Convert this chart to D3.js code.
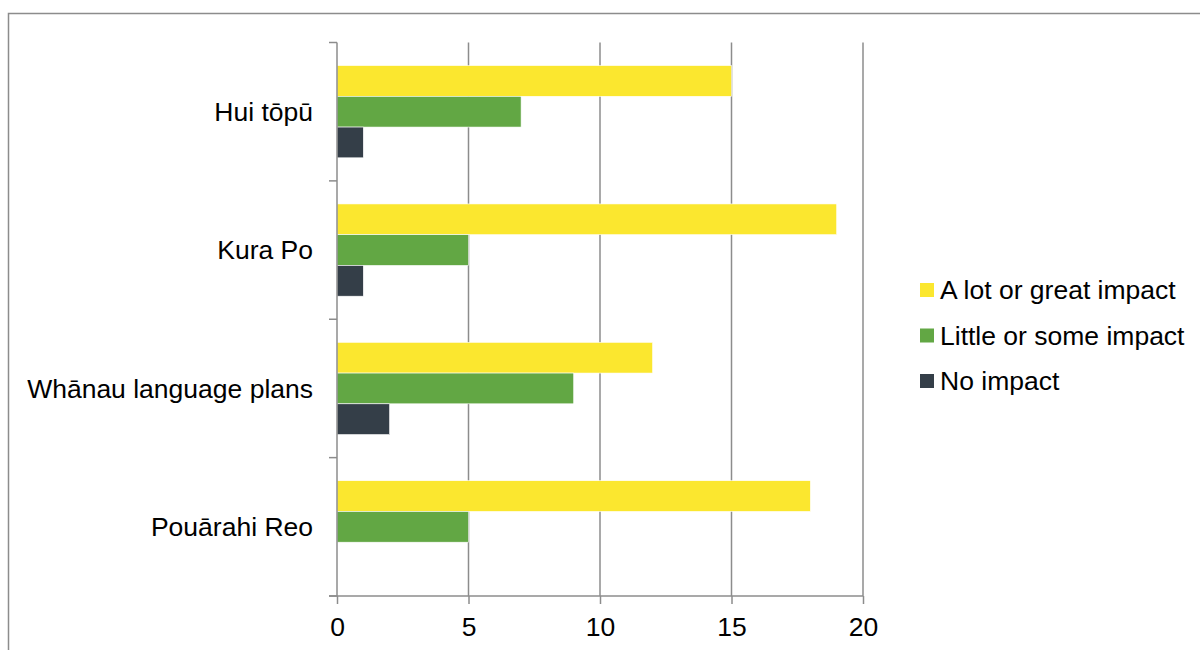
<!DOCTYPE html>
<html>
<head>
<meta charset="utf-8">
<script src="https://cdn.jsdelivr.net/npm/d3@7"></script>
<style>
  html, body { margin: 0; padding: 0; background: #fff; }
  svg { display: block; font-family: "Liberation Sans", Arial, sans-serif; }
</style>
</head>
<body>
<svg id="chart" width="1200" height="650"></svg>
<script>
// Programmes rated for impact (top to bottom)
const categories = ["Hui tōpū", "Kura Po", "Whānau language plans", "Pouārahi Reo"];
const seriesNames = ["A lot or great impact", "Little or some impact", "No impact"];
const greatImpact = [15, 19, 12, 18];
const someImpact = [7, 5, 9, 5];
const noImpact = [1, 1, 2, 0];
const xTicks = [0, 5, 10, 15, 20];
const colors = ["#FBE72F", "#62A744", "#343E48"];

const seriesValues = [greatImpact, someImpact, noImpact];
const fontSize = 26.5;

const svg = d3.select("#chart");
const margin = { left: 337, right: 337 + 526, top: 42.5, bottom: 596 };

// outer chart frame
svg.append("rect")
  .attr("x", 8.5).attr("y", 13.5)
  .attr("width", 1300).attr("height", 800)
  .attr("fill", "none").attr("stroke", "#8c8c8c").attr("stroke-width", 1.5);

const x = d3.scaleLinear().domain([0, 20]).range([margin.left, margin.right]);
const y = d3.scaleBand().domain(categories).range([margin.top, margin.bottom]).paddingInner(0).paddingOuter(0);
const inner = d3.scaleBand().domain(seriesNames).range([0, y.bandwidth()]).paddingOuter(0.75).paddingInner(0);

// vertical gridlines
svg.append("g").selectAll("line")
  .data(xTicks.filter(d => d > 0))
  .join("line")
  .attr("x1", d => x(d)).attr("x2", d => x(d))
  .attr("y1", margin.top).attr("y2", margin.bottom)
  .attr("stroke", "#8c8c8c").attr("stroke-width", 1.5);

// bars
const rows = categories.map((c, i) => ({ c, vals: seriesValues.map((s, k) => ({ name: seriesNames[k], v: s[i], k })) }));
svg.append("g").selectAll("g")
  .data(rows)
  .join("g")
  .attr("transform", d => `translate(0,${y(d.c)})`)
  .selectAll("rect")
  .data(d => d.vals.filter(e => e.v > 0))
  .join("rect")
  .attr("x", x(0))
  .attr("y", d => inner(d.name))
  .attr("width", d => x(d.v) - x(0))
  .attr("height", inner.bandwidth())
  .attr("fill", d => colors[d.k])
  .attr("stroke", "#ffffff").attr("stroke-width", 0.6);

// x axis
const xAxis = svg.append("g")
  .attr("transform", `translate(0,${margin.bottom})`)
  .call(d3.axisBottom(x).tickValues(xTicks).tickSize(8).tickSizeOuter(0).tickPadding(13));
xAxis.select(".domain").attr("stroke", "#8c8c8c").attr("stroke-width", 1.5)
  .attr("d", `M${x(0) - 8},0H${x(20)}`);
xAxis.selectAll(".tick line").attr("stroke", "#8c8c8c").attr("stroke-width", 1.5);
xAxis.selectAll(".tick text").attr("font-size", fontSize).attr("fill", "#000")
  .attr("font-family", "Liberation Sans, Arial, sans-serif");

// y axis: ticks at category boundaries
const yAxisG = svg.append("g");
yAxisG.append("line")
  .attr("x1", x(0)).attr("x2", x(0))
  .attr("y1", margin.top).attr("y2", margin.bottom)
  .attr("stroke", "#8c8c8c").attr("stroke-width", 1.5);
const boundaries = categories.map(c => y(c)).concat([margin.bottom]);
yAxisG.selectAll("line.tk")
  .data(boundaries)
  .join("line").attr("class", "tk")
  .attr("x1", x(0) - 8).attr("x2", x(0))
  .attr("y1", d => d).attr("y2", d => d)
  .attr("stroke", "#8c8c8c").attr("stroke-width", 1.5);
yAxisG.selectAll("text")
  .data(categories)
  .join("text")
  .attr("x", 313)
  .attr("y", d => y(d) + y.bandwidth() / 2)
  .attr("dy", "0.35em")
  .attr("text-anchor", "end")
  .attr("font-size", fontSize)
  .attr("fill", "#000")
  .text(d => d);

// legend
const legend = svg.append("g").attr("transform", "translate(920,290)");
const lg = legend.selectAll("g")
  .data(seriesNames)
  .join("g")
  .attr("transform", (d, i) => `translate(0,${i * 45.5})`);
lg.append("rect")
  .attr("x", 0).attr("y", -7).attr("width", 14).attr("height", 14)
  .attr("fill", (d, i) => colors[i]);
lg.append("text")
  .attr("x", 20).attr("y", 0).attr("dy", "0.35em")
  .attr("font-size", fontSize).attr("fill", "#000")
  .text(d => d);
</script>
</body>
</html>
